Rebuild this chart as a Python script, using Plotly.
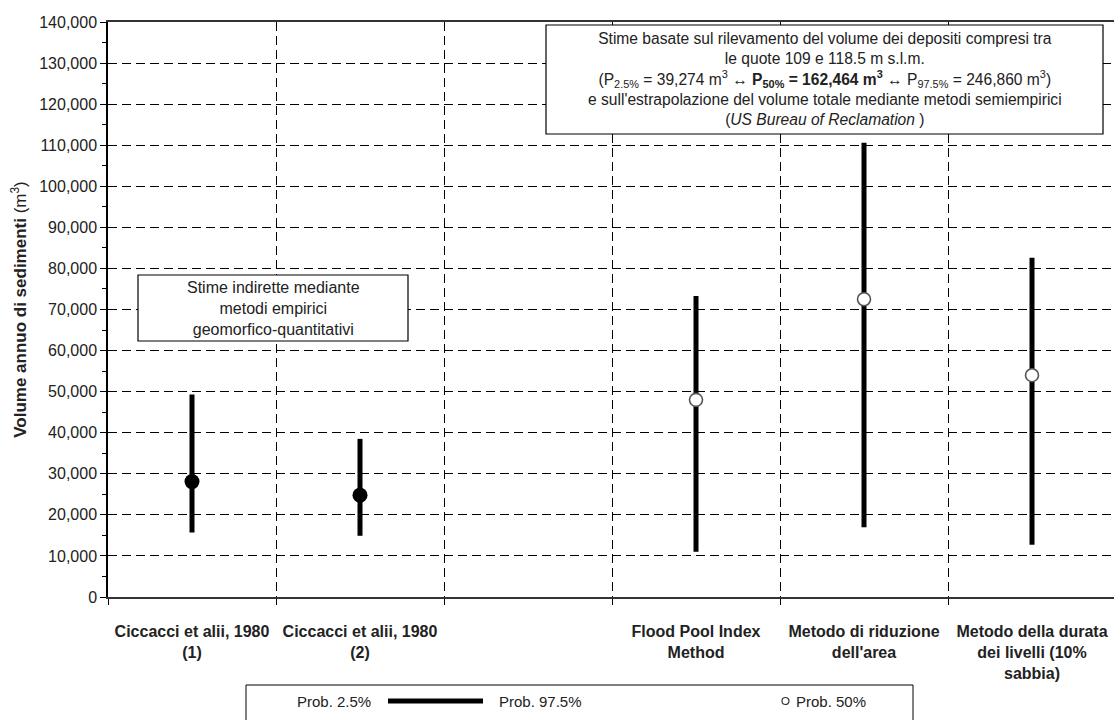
import plotly.graph_objects as go

# Annual sediment volume estimates by method (m3/year)
categories = [
    "Ciccacci et alii, 1980<br>(1)",
    "Ciccacci et alii, 1980<br>(2)",
    " ",
    "Flood Pool Index<br>Method",
    "Metodo di riduzione<br>dell'area",
    "Metodo della durata<br>dei livelli (10%<br>sabbia)",
]
p025 = [15700, 14900, None, 11000, 17000, 12700]
p50 = [28100, 24800, None, 48000, 72500, 54000]
p975 = [49300, 38500, None, 73300, 110600, 82600]

# indices of the two method groups
empirical_idx = [0, 1]
survey_idx = [3, 4, 5]

y_ticks = list(range(0, 140001, 10000))

W, H = 1114, 720
ML, MR, MT, MB = 108, 0, 22, 123
PW, PH = W - ML - MR, H - MT - MB


def px(x):
    return (x - ML) / PW


def py(y):
    return (H - MB - y) / PH


FONT = "Liberation Sans, Arial, sans-serif"
TXT = "#222222"


def group_trace(idx, marker):
    xs = [categories[i] for i in idx]
    med = [p50[i] for i in idx]
    up = [p975[i] - p50[i] for i in idx]
    dn = [p50[i] - p025[i] for i in idx]
    return go.Scatter(
        x=xs, y=med, mode="markers", marker=marker, showlegend=False,
        error_y=dict(type="data", symmetric=False, array=up, arrayminus=dn,
                     thickness=5, width=0, color="black"),
        hoverinfo="x+y",
    )


fig = go.Figure()
# placeholder so the empty category keeps its slot
fig.add_trace(go.Scatter(x=categories, y=[None] * len(categories), mode="markers",
                         showlegend=False, hoverinfo="skip"))
fig.add_trace(group_trace(empirical_idx, dict(color="black", size=15, line=dict(width=0))))
fig.add_trace(group_trace(survey_idx, dict(color="white", size=13,
                                           line=dict(color="#555555", width=1.6))))

shapes = []
annotations = []

# box: survey-based estimates
shapes.append(dict(type="rect", xref="paper", yref="paper",
                   x0=px(546), x1=px(1103), y0=py(25), y1=py(134),
                   line=dict(color="black", width=1.2), fillcolor="white", layer="above"))
annotations.append(dict(
    xref="paper", yref="paper", x=px(825), y=py(79.5), xanchor="center", yanchor="middle",
    showarrow=False, align="center", font=dict(family=FONT, size=15.6, color=TXT),
    text=("Stime basate sul rilevamento del volume dei depositi compresi tra<br>"
          "le quote 109 e 118.5 m s.l.m.<br>"
          "(P<sub>2.5%</sub> = 39,274 m<sup>3</sup> \u2194 <b>P<sub>50%</sub> = 162,464 m<sup>3</sup></b>"
          " \u2194 P<sub>97.5%</sub> = 246,860 m<sup>3</sup>)<br>"
          "e sull'estrapolazione del volume totale mediante metodi semiempirici<br>"
          "(<i>US Bureau of Reclamation</i> )"),
))

# box: empirical estimates
shapes.append(dict(type="rect", xref="paper", yref="paper",
                   x0=px(138), x1=px(408), y0=py(275), y1=py(341),
                   line=dict(color="black", width=1.2), fillcolor="white", layer="above"))
annotations.append(dict(
    xref="paper", yref="paper", x=px(273), y=py(308), xanchor="center", yanchor="middle",
    showarrow=False, align="center", font=dict(family=FONT, size=16, color=TXT),
    text="Stime indirette mediante<br>metodi empirici<br>geomorfico-quantitativi",
))

# key below the chart
shapes.append(dict(type="rect", xref="paper", yref="paper",
                   x0=px(246), x1=px(913), y0=py(685), y1=py(724),
                   line=dict(color="black", width=1), fillcolor="white"))
shapes.append(dict(type="line", xref="paper", yref="paper",
                   x0=px(388), x1=px(483), y0=py(701), y1=py(701),
                   line=dict(color="black", width=5)))
shapes.append(dict(type="circle", xref="paper", yref="paper",
                   x0=px(782), x1=px(789), y0=py(697.5), y1=py(704.5),
                   line=dict(color="#333333", width=1.2), fillcolor="white"))
for label, cx, anchor in [("Prob. 2.5%", 373, "right"), ("Prob. 97.5%", 497, "left"),
                          ("Prob. 50%", 794, "left")]:
    annotations.append(dict(xref="paper", yref="paper", x=px(cx), y=py(701),
                            xanchor=anchor, yanchor="middle", showarrow=False,
                            font=dict(family=FONT, size=15, color=TXT), text=label))

fig.update_layout(
    width=W, height=H,
    margin=dict(l=ML, r=MR, t=MT, b=MB, pad=0),
    paper_bgcolor="white", plot_bgcolor="white",
    font=dict(family=FONT, color=TXT),
    shapes=shapes, annotations=annotations,
    xaxis=dict(
        type="category", categoryorder="array", categoryarray=categories,
        range=[-0.5, 5.488], tickson="boundaries",
        showgrid=True, gridcolor="black", gridwidth=1, griddash="9px,5px",
        showline=True, linecolor="#333333", linewidth=1.5, mirror=True,
        ticks="outside", ticklen=6, tickcolor="black",
        tickfont=dict(family=FONT, size=16, color=TXT, weight="bold"),
        ticklabelstandoff=19, zeroline=False,
    ),
    yaxis=dict(
        range=[0, 140000], tickvals=y_ticks, tickformat=",d",
        showgrid=True, gridcolor="black", gridwidth=1, griddash="9px,5px",
        showline=True, linecolor="black", linewidth=1.5,
        ticks="outside", ticklen=6, tickcolor="black",
        minor=dict(dtick=5000, ticks="outside", ticklen=4, tickcolor="black", showgrid=False),
        tickfont=dict(family=FONT, size=16, color=TXT),
        title=dict(text="<b>Volume annuo di sedimenti</b> (m<sup>3</sup>)",
                   font=dict(family=FONT, size=17, color=TXT), standoff=8),
        zeroline=False,
    ),
)

fig.write_html("out.html")
